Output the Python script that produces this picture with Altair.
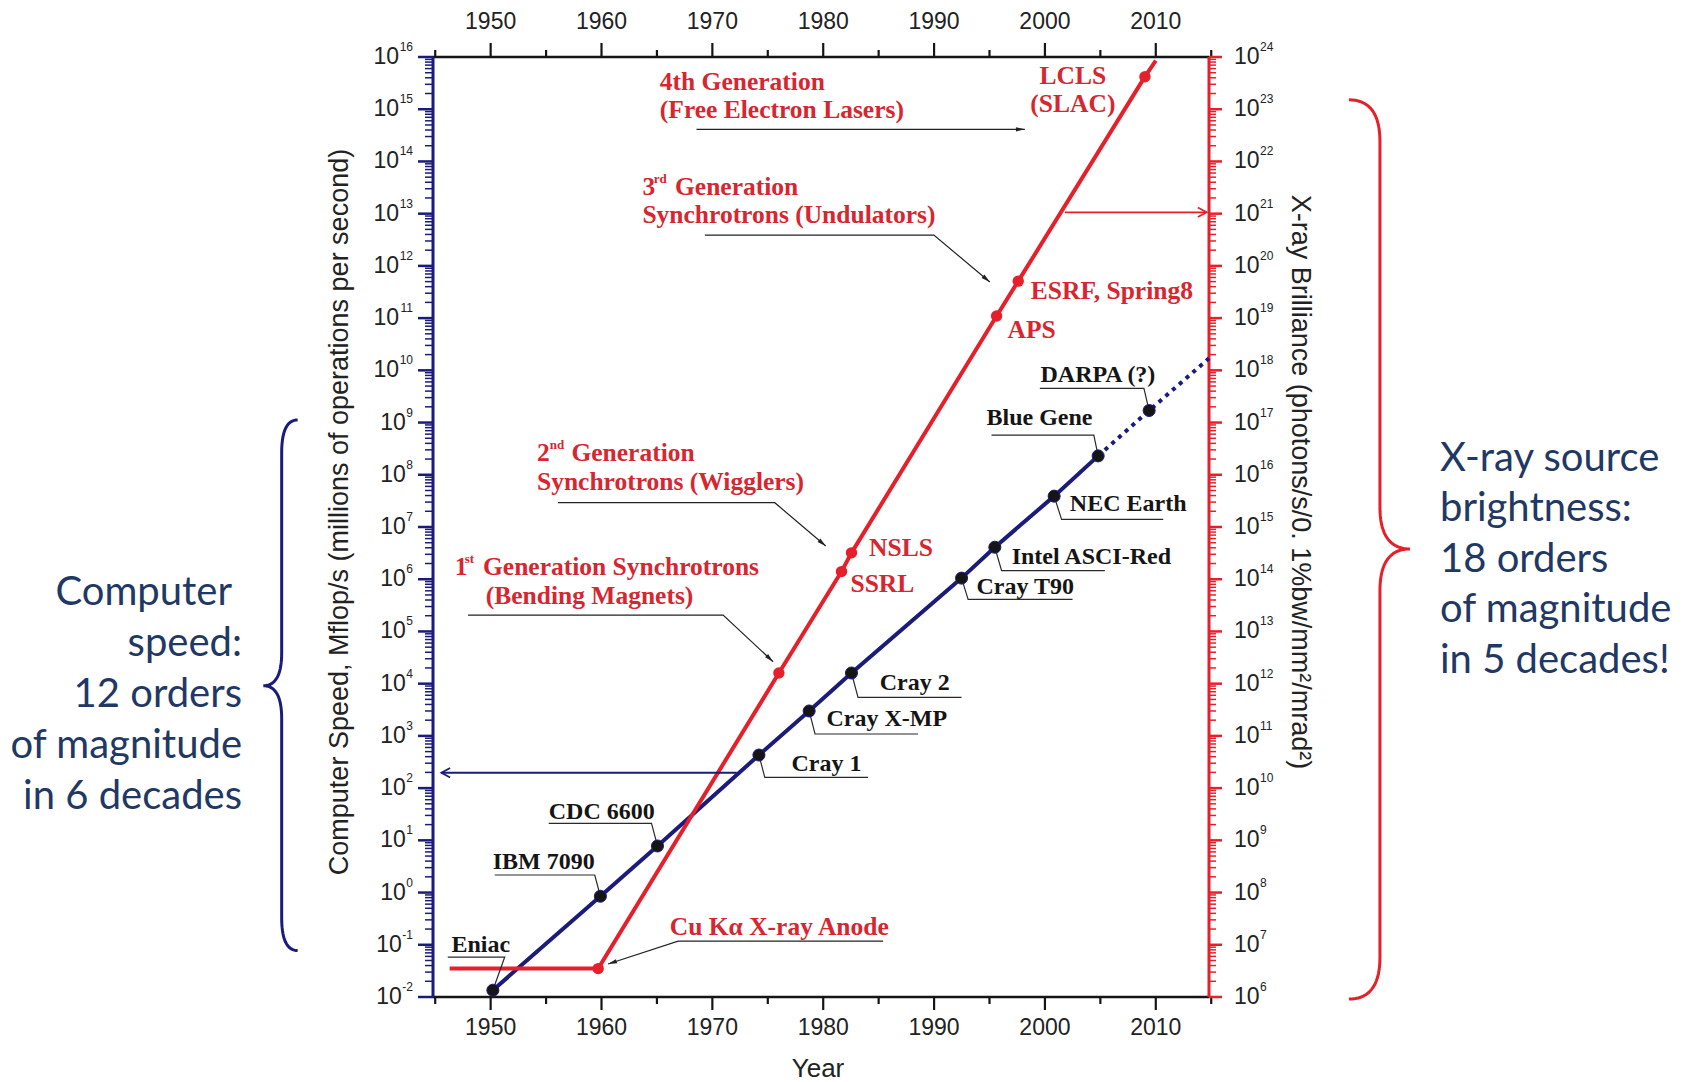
import math
import altair as alt
import pandas as pd

# ---------------- data ----------------
computers = ["Eniac", "IBM 7090", "CDC 6600", "Cray 1", "Cray X-MP", "Cray 2",
             "Cray T90", "Intel ASCI-Red", "NEC Earth", "Blue Gene", "DARPA (?)"]
computer_year = [1950.2, 1959.9, 1965.05, 1974.2, 1978.73, 1982.55,
                 1992.48, 1995.48, 2000.83, 2004.8, 2009.4]
computer_mflops = [1.35e-2, 0.85, 7.8, 4.3e2, 3.0e3, 1.6e4,
                   1.05e6, 4.1e6, 3.9e7, 2.3e8, 1.7e9]
projection_year = [2004.8, 2009.4, 2014.8]
projection_mflops = [2.3e8, 1.7e9, 1.7e10]

sources = ["Cu Kα X-ray Anode", "1st Generation", "SSRL", "NSLS", "APS",
           "ESRF, Spring8", "LCLS (SLAC)"]
source_year = [1959.7, 1976.0, 1981.65, 1982.55, 1995.64, 1997.59, 2009.02]
source_brilliance = [3.5e6, 1.6e12, 1.4e14, 3.2e14, 1.1e19, 5.1e19, 4.2e23]
brilliance_line_year = [1946.3] + source_year + [2010.0]
brilliance_line_value = [3.5e6] + source_brilliance + [8.5e23]

year_ticks = [1950, 1960, 1970, 1980, 1990, 2000, 2010]
year_minor_ticks = [1945, 1955, 1965, 1975, 1985, 1995, 2005, 2015]
speed_exponents = list(range(-2, 17))
brilliance_exponents = list(range(6, 25))

# ---------------- layout / style ----------------
W, H = 776, 940
X0, X1 = 1944.8, 2014.8
PX_YEAR = W / (X1 - X0)
PX_DEC = H / 18.0

NAVY = "#1B1B7C"
RED = "#E5202B"
RED_TEXT = "#D7262F"
BLACK = "#151515"
BLUE_TEXT = "#1F3864"
AXIS_TEXT = "#222222"
SERIF = "Liberation Serif"
SANS = "Liberation Sans"
CAL = "Lato"
LAB = 23
EXP = 12

XS = alt.Scale(domain=[X0, X1], nice=False, zero=False)
YL = alt.Scale(type="log", domain=[1e-2, 1e16], nice=False)
YR = alt.Scale(type="log", domain=[1e6, 1e24], nice=False)


def X(f="x"):
    return alt.X(f"{f}:Q", scale=XS, axis=None)


def YLf(f="y"):
    return alt.Y(f"{f}:Q", scale=YL, axis=None)


def YRf(f="y"):
    return alt.Y(f"{f}:Q", scale=YR, axis=None)


ONE = pd.DataFrame({"a": [0]})
layers = []

# ---------------- braces (decoration, in data units) ----------------
def bez(p0, p1, p2, n=18):
    out = []
    for i in range(n + 1):
        t = i / n
        out.append(((1 - t) ** 2 * p0[0] + 2 * (1 - t) * t * p1[0] + t * t * p2[0],
                    (1 - t) ** 2 * p0[1] + 2 * (1 - t) * t * p1[1] + t * t * p2[1]))
    return out


def brace(xe, xs, xt, yt, ym, yb, h):
    pts = (bez((xe, yt), (xs, yt), (xs, yt - h)) + bez((xs, ym + h), (xs, ym), (xt, ym))
           + bez((xt, ym), (xs, ym), (xs, ym - h)) + bez((xs, yb + h), (xs, yb), (xe, yb)))
    return pd.DataFrame({"x": [p[0] for p in pts], "y": [10 ** p[1] for p in pts],
                         "o": list(range(len(pts)))})


left_brace = brace(1932.59, 1931.15, 1929.5, 9.05, 3.96, -1.11, 0.63)
right_brace = brace(2027.42, 2030.22, 2032.93, 15.18, 6.58, -2.04, 0.8)
layers.append(alt.Chart(left_brace).mark_line(color=NAVY, strokeWidth=3)
              .encode(x=X(), y=YLf(), order="o:Q"))
layers.append(alt.Chart(right_brace).mark_line(color=RED, strokeWidth=3)
              .encode(x=X(), y=YLf(), order="o:Q"))

# ---------------- frame ----------------
layers.append(alt.Chart(ONE).mark_rule(color=BLACK, strokeWidth=2.5)
              .encode(x=alt.value(0), x2=alt.value(W), y=alt.value(0)))
layers.append(alt.Chart(ONE).mark_rule(color=BLACK, strokeWidth=2.5)
              .encode(x=alt.value(0), x2=alt.value(W), y=alt.value(H)))
layers.append(alt.Chart(ONE).mark_rule(color=NAVY, strokeWidth=3)
              .encode(x=alt.value(0), y=alt.value(0), y2=alt.value(H)))
layers.append(alt.Chart(ONE).mark_rule(color=RED, strokeWidth=3)
              .encode(x=alt.value(W), y=alt.value(0), y2=alt.value(H)))

# ---------------- ticks ----------------
yt_major = pd.DataFrame({"x": year_ticks})
yt_minor = pd.DataFrame({"x": year_minor_ticks})
for y1, y2, df in [(-14, 0, yt_major), (-7, 0, yt_minor), (H, H + 13, yt_major), (H, H + 7, yt_minor)]:
    layers.append(alt.Chart(df).mark_rule(color=BLACK, strokeWidth=2.2)
                  .encode(x=X(), y=alt.value(y1), y2=alt.value(y2)))

sp_major = pd.DataFrame({"y": [10.0 ** k for k in speed_exponents]})
sp_minor = pd.DataFrame({"y": [m * 10.0 ** k for k in speed_exponents[:-1] for m in range(2, 10)]})
br_major = pd.DataFrame({"y": [10.0 ** k for k in brilliance_exponents]})
br_minor = pd.DataFrame({"y": [m * 10.0 ** k for k in brilliance_exponents[:-1] for m in range(2, 10)]})
layers.append(alt.Chart(sp_major).mark_rule(color=NAVY, strokeWidth=2.5)
              .encode(y=YLf(), x=alt.value(-15), x2=alt.value(0)))
layers.append(alt.Chart(sp_minor).mark_rule(color=NAVY, strokeWidth=1.5)
              .encode(y=YLf(), x=alt.value(-8), x2=alt.value(0)))
layers.append(alt.Chart(br_major).mark_rule(color=RED, strokeWidth=2.5)
              .encode(y=YRf(), x=alt.value(W), x2=alt.value(W + 13)))
layers.append(alt.Chart(br_minor).mark_rule(color=RED, strokeWidth=1.5)
              .encode(y=YRf(), x=alt.value(W), x2=alt.value(W + 7)))

# ---------------- tick labels ----------------
yl_df = pd.DataFrame({"x": year_ticks, "t": [str(v) for v in year_ticks]})
for yy in (-35, H + 31):
    layers.append(alt.Chart(yl_df).mark_text(font=SANS, fontSize=LAB, color=AXIS_TEXT,
                                             align="center", baseline="middle")
                  .encode(x=X(), y=alt.value(yy), text="t:N"))


def exp_width(s):
    return sum(0.556 if c.isdigit() else 0.333 for c in s) * EXP


groups = {}
for k in speed_exponents:
    groups.setdefault(len(str(k)) + (0.5 if k < 0 else 0), []).append(k)
for key, ks in groups.items():
    df = pd.DataFrame({"y": [10.0 ** k for k in ks], "e": [str(k) for k in ks]})
    w = exp_width(str(ks[0]))
    layers.append(alt.Chart(df).mark_text(font=SANS, fontSize=LAB, color=AXIS_TEXT,
                                          align="right", baseline="middle")
                  .encode(y=YLf(), x=alt.value(-20 - w - 0.5), text=alt.value("10")))
    layers.append(alt.Chart(df).mark_text(font=SANS, fontSize=EXP, color=AXIS_TEXT,
                                          align="right", baseline="middle", dy=-10)
                  .encode(y=YLf(), x=alt.value(-20), text="e:N"))

br_lab = pd.DataFrame({"y": [10.0 ** k for k in brilliance_exponents],
                       "e": [str(k) for k in brilliance_exponents]})
layers.append(alt.Chart(br_lab).mark_text(font=SANS, fontSize=LAB, color=AXIS_TEXT,
                                          align="left", baseline="middle")
              .encode(y=YRf(), x=alt.value(W + 25), text=alt.value("10")))
layers.append(alt.Chart(br_lab).mark_text(font=SANS, fontSize=EXP, color=AXIS_TEXT,
                                          align="left", baseline="middle", dy=-10)
              .encode(y=YRf(), x=alt.value(W + 25 + 2 * 0.556 * LAB + 0.5), text="e:N"))

# axis titles
layers.append(alt.Chart(ONE).mark_text(font=SANS, fontSize=27, color=AXIS_TEXT, angle=270,
                                       align="center", baseline="middle")
              .encode(x=alt.value(-93), y=alt.value(455),
                      text=alt.value("Computer Speed, Mflop/s (millions of operations per second)")))
layers.append(alt.Chart(ONE).mark_text(font=SANS, fontSize=27, color=AXIS_TEXT, angle=90,
                                       align="center", baseline="middle")
              .encode(x=alt.value(867), y=alt.value(425),
                      text=alt.value("X-ray Brilliance (photons/s/0. 1%bw/mm²/mrad²)")))
layers.append(alt.Chart(ONE).mark_text(font=SANS, fontSize=26, color=AXIS_TEXT,
                                       align="center", baseline="middle")
              .encode(x=alt.value(385), y=alt.value(1012), text=alt.value("Year")))

# ---------------- series ----------------
solid = pd.DataFrame({"x": computer_year[:10], "y": computer_mflops[:10]})
dotted = pd.DataFrame({"x": projection_year, "y": projection_mflops})
bline = pd.DataFrame({"x": brilliance_line_year, "y": brilliance_line_value})
cpts = pd.DataFrame({"x": computer_year, "y": computer_mflops, "name": computers})
bpts = pd.DataFrame({"x": source_year, "y": source_brilliance, "name": sources})

layers.append(alt.Chart(solid).mark_line(color=NAVY, strokeWidth=4).encode(x=X(), y=YLf()))
layers.append(alt.Chart(dotted).mark_line(color=NAVY, strokeWidth=4, strokeDash=[4, 5])
              .encode(x=X(), y=YLf()))
layers.append(alt.Chart(bline).mark_line(color=RED, strokeWidth=4).encode(x=X(), y=YRf()))

# ---------------- leaders and arrows (annotation geometry, data units) ----------------
leader_corner = [(1951.27, -1.235), (1959.39, 0.336), (1964.51, 1.326), (1974.73, 2.206),
                 (1979.26, 3.036), (1983.14, 3.738), (1993.07, 5.615), (1996.09, 6.163),
                 (2001.5, 7.147), (2004.41, 8.761), (2008.93, 9.656)]
leader_end_year = [1946.13, 1950.37, 1955.24, 1984.05, 1988.56, 1992.48, 2002.49,
                   2005.41, 2010.67, 1995.18, 1999.54]
rows = []
for i in range(len(computers)):
    cy, cl = leader_corner[i]
    pts = [(computer_year[i], computer_mflops[i]), (cy, 10 ** cl), (leader_end_year[i], 10 ** cl)]
    for j, (px, py) in enumerate(pts):
        rows.append({"id": i, "o": j, "x": px, "y": py})
layers.append(alt.Chart(pd.DataFrame(rows)).mark_line(color="#2a2a2a", strokeWidth=1.2)
              .encode(x=X(), y=YLf(), detail="id:N", order="o:Q"))

arrows = [
    ([(1968.57, 14.615), (1998.19, 14.615)], "#222222", 1.3, "tri"),
    ([(1969.32, 12.591), (1989.98, 12.591), (1995.03, 11.691)], "#222222", 1.2, "tri"),
    ([(1956.08, 7.465), (1975.63, 7.465), (1980.23, 6.636)], "#222222", 1.2, "tri"),
    ([(1947.96, 5.314), (1970.97, 5.314), (1975.48, 4.42)], "#222222", 1.2, "tri"),
    ([(1985.4, -0.929), (1966.91, -0.929), (1960.59, -1.369)], "#222222", 1.2, "tri"),
    ([(2001.8, 13.026), (2014.58, 13.026)], RED, 1.8, "chev"),
    ([(1972.2, 2.294), (1945.56, 2.294)], NAVY, 1.8, "chev"),
]
TRI = "M0,0L-0.42,1.7L0.42,1.7Z"
CHEV = "M-0.55,1L0,0L0.55,1"
for k, (pts, col, sw, head) in enumerate(arrows):
    df = pd.DataFrame({"x": [p[0] for p in pts], "y": [10 ** p[1] for p in pts],
                       "o": list(range(len(pts)))})
    layers.append(alt.Chart(df).mark_line(color=col, strokeWidth=sw)
                  .encode(x=X(), y=YLf(), order="o:Q"))
    (xa, la), (xb, lb) = pts[-2], pts[-1]
    dxp = (xb - xa) * PX_YEAR
    dyp = -(lb - la) * PX_DEC
    ang = (math.degrees(math.atan2(dxp, -dyp)) + 360) % 360
    hd = pd.DataFrame({"x": [xb], "y": [10 ** lb], "ang": [ang]})
    if head == "tri":
        mk = alt.Chart(hd).mark_point(shape=TRI, filled=True, size=110, color=col, opacity=1)
    else:
        mk = alt.Chart(hd).mark_point(shape=CHEV, filled=False, size=300, color=col,
                                      strokeWidth=sw, opacity=1)
    layers.append(mk.encode(x=X(), y=YLf(), angle=alt.Angle("ang:Q", scale=None)))

# points
layers.append(alt.Chart(cpts).mark_circle(size=145, color=BLACK, opacity=1,
                                          stroke=NAVY, strokeWidth=1)
              .encode(x=X(), y=YLf()))
layers.append(alt.Chart(bpts).mark_circle(size=130, color=RED, opacity=1)
              .encode(x=X(), y=YRf()))

# ---------------- annotation text ----------------
def texts(items, **kw):
    df = pd.DataFrame({"t": [a[0] for a in items], "x": [a[1] for a in items],
                       "y": [10 ** a[2] for a in items]})
    return alt.Chart(df).mark_text(baseline="middle", **kw).encode(x=X(), y=YLf(), text="t:N")


label_pos = [(1946.46, -1.005), (1950.19, 0.59), (1955.24, 1.548), (1977.14, 2.461),
             (1980.3, 3.323), (1985.1, 4.018), (1993.83, 5.845), (1997.0, 6.431),
             (2002.25, 7.434), (1994.73, 9.081), (1999.6, 9.91)]
layers.append(texts([(computers[i], label_pos[i][0], label_pos[i][1]) for i in range(len(computers))],
                    font=SERIF, fontSize=24, fontWeight="bold", color=BLACK, align="left"))

red_items = [
    ("NSLS", 1984.14, 6.592), ("SSRL", 1982.46, 5.902), ("APS", 1996.62, 10.763),
    ("ESRF, Spring8", 1998.73, 11.525),
    ("4th Generation", 1965.26, 15.521), ("(Free Electron Lasers)", 1965.26, 14.985),
    ("3", 1963.69, 13.505), ("Generation", 1966.63, 13.505),
    ("Synchrotrons (Undulators)", 1963.69, 12.969),
    ("2", 1954.18, 8.411), ("Generation", 1957.29, 8.411),
    ("Synchrotrons (Wigglers)", 1954.18, 7.867),
    ("1", 1946.76, 6.239), ("Generation Synchrotrons", 1949.31, 6.239),
    ("(Bending Magnets)", 1949.56, 5.684),
    ("Cu Kα X-ray Anode", 1966.16, -0.655),
]
layers.append(texts(red_items, font=SERIF, fontSize=25.5, fontWeight="bold", color=RED_TEXT, align="left"))
layers.append(texts([("LCLS", 2002.52, 15.636), ("(SLAC)", 2002.52, 15.1)],
                    font=SERIF, fontSize=25.5, fontWeight="bold", color=RED_TEXT, align="center"))
layers.append(texts([("rd", 1964.71, 13.66), ("nd", 1955.33, 8.564), ("st", 1947.66, 6.392)],
                    font=SERIF, fontSize=13, fontWeight="bold", color=RED_TEXT, align="left"))

# ---------------- side notes ----------------
layers.append(alt.Chart(ONE).mark_text(font=CAL, fontSize=40, color=BLUE_TEXT, align="right",
                                       baseline="middle")
              .encode(x=alt.value(-201), y=alt.value(536), text=alt.value("Computer")))
layers.append(alt.Chart(ONE).mark_text(font=CAL, fontSize=40, color=BLUE_TEXT, align="right",
                                       baseline="middle", lineHeight=51)
              .encode(x=alt.value(-191), y=alt.value(587),
                      text=alt.value(["speed:", "12 orders", "of magnitude", "in 6 decades"])))
layers.append(alt.Chart(ONE).mark_text(font=CAL, fontSize=40, color=BLUE_TEXT, align="left",
                                       baseline="middle", lineHeight=50.6)
              .encode(x=alt.value(1007), y=alt.value(401.6),
                      text=alt.value(["X-ray source", "brightness:", "18 orders",
                                      "of magnitude", "in 5 decades!"])))

chart = (alt.layer(*layers)
         .resolve_scale(y="independent")
         .properties(width=W, height=H,
                     padding={"left": 425, "top": 49, "right": 471, "bottom": 90},
                     autosize=alt.AutoSizeParams(type="none"),
                     background="white")
         .configure_view(stroke=None))

chart.save("out.html", embed_options={"renderer": "svg", "actions": False})
